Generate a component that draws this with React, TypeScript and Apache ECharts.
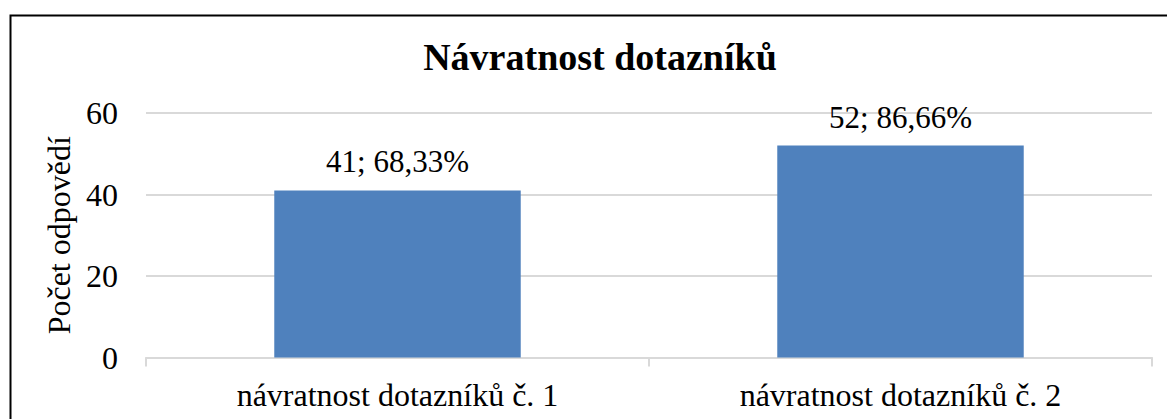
import React, { useEffect, useRef } from "react";
import * as echarts from "echarts";

const categories = ["návratnost dotazníků č. 1", "návratnost dotazníků č. 2"];
const counts = [41, 52];
const percentLabels = ["68,33%", "86,66%"];
const yTicks = { min: 0, max: 60, interval: 20 };

const FONT = "'Liberation Serif', 'Times New Roman', serif";

export default function App() {
  const ref = useRef<HTMLDivElement>(null);
  useEffect(() => {
    if (!ref.current) return;
    const chart = echarts.init(ref.current, undefined, { renderer: "svg" });
    chart.setOption({
      animation: false,
      backgroundColor: "#ffffff",
      textStyle: { fontFamily: FONT, color: "#000000" },
      title: {
        text: "Návratnost dotazníků",
        left: 595,
        textAlign: "center",
        top: 33,
        textStyle: { fontFamily: FONT, fontSize: 38, fontWeight: "bold", color: "#000000" },
      },
      graphic: [
        {
          type: "rect",
          left: 8,
          top: 13,
          shape: { width: 1300, height: 600 },
          style: { fill: "none", stroke: "#000000", lineWidth: 2 },
          z: 100,
        },
      ],
      grid: { left: 146, right: 15, top: 113, bottom: 61.5 },
      xAxis: {
        type: "category",
        data: categories,
        axisLine: { lineStyle: { color: "#d9d9d9", width: 2 } },
        axisTick: { show: true, length: 9, lineStyle: { color: "#d9d9d9", width: 2 } },
        axisLabel: { fontFamily: FONT, fontSize: 32, color: "#000000", margin: 21 },
      },
      yAxis: {
        type: "value",
        min: yTicks.min,
        max: yTicks.max,
        interval: yTicks.interval,
        name: "Počet odpovědí",
        nameLocation: "middle",
        nameGap: 71,
        nameTextStyle: { fontFamily: FONT, fontSize: 32, color: "#000000" },
        axisLine: { show: false },
        axisTick: { show: false },
        axisLabel: { fontFamily: FONT, fontSize: 32, color: "#000000", margin: 28 },
        splitLine: { lineStyle: { color: "#d9d9d9", width: 2 } },
      },
      series: [
        {
          type: "bar",
          data: counts,
          barWidth: "49%",
          itemStyle: { color: "#4f81bd" },
          label: {
            show: true,
            position: "top",
            distance: 13,
            fontFamily: FONT,
            fontSize: 31,
            color: "#000000",
            formatter: (p: any) => `${p.value}; ${percentLabels[p.dataIndex]}`,
          },
        },
      ],
    });
    return () => chart.dispose();
  }, []);
  return (
    <div
      ref={ref}
      style={{ position: "fixed", left: 0, top: 0, width: 1167, height: 419 }}
    />
  );
}
